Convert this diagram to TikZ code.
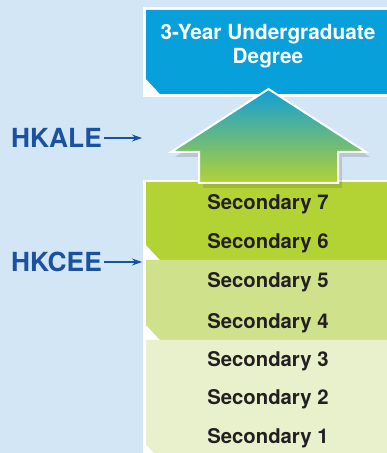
\documentclass[tikz,border=0pt]{standalone}
\usepackage{fontspec}
\setmainfont{TeX Gyre Heros}
\usetikzlibrary{shadows,arrows.meta}
\definecolor{bg}{RGB}{210,230,246}
\definecolor{topblue}{RGB}{8,160,218}
\definecolor{dkgreen}{RGB}{179,211,52}
\definecolor{mdgreen}{RGB}{207,225,138}
\definecolor{ltgreen}{RGB}{232,241,204}
\definecolor{navy}{RGB}{26,82,160}
\definecolor{txt}{RGB}{35,31,32}
\definecolor{arrtop}{RGB}{16,158,216}
\definecolor{arrbot}{RGB}{178,210,52}
\tikzset{
  seclabel/.style={font=\fontsize{20.3}{22}\selectfont\bfseries, text=txt, inner sep=0pt},
  examlabel/.style={font=\fontsize{26.3}{28}\selectfont\bfseries, text=navy, inner sep=0pt, anchor=east},
  examarrow/.style={navy, line width=1.1pt, -{Stealth[length=10pt,width=7pt]}},
  titlelabel/.style={font=\fontsize{20.8}{24}\selectfont\bfseries, text=white, align=center, inner sep=0pt}
}
\begin{document}
\begin{tikzpicture}[x=1pt,y=1pt]
\useasboundingbox (0,0) rectangle (387,453);
\fill[bg] (0,0) rectangle (387,453);
% top box
\fill[white] (143,356) rectangle (387,446);
\fill[topblue] (146,443) -- (387,443) -- (387,359) -- (160,359) -- (146,374) -- cycle;
% lower column
\fill[white] (143,0) rectangle (387,273);
\fill[dkgreen] (146,271) -- (387,271) -- (387,193) -- (160,193) -- (146,208) -- cycle;
\fill[mdgreen] (146,193) -- (387,193) -- (387,113) -- (160,113) -- (146,128) -- cycle;
\fill[ltgreen] (146,113) -- (387,113) -- (387,0) -- (154,0) -- (146,8) -- cycle;
% up arrow
\path[drop shadow={shadow xshift=4pt,shadow yshift=-5pt,opacity=0.2,fill=black!70},
  top color=arrtop, bottom color=arrbot, draw=white, line width=2pt, line join=miter]
  (268.5,364) -- (366,301) -- (338,301) -- (338,270) -- (199,270) -- (199,301) -- (171,301) -- cycle;
% title
\node[titlelabel] (deg) at (268,406.5) {3-Year Undergraduate\\Degree};
% secondary levels
\node[seclabel] (s7) at (268,248.5) {Secondary 7};
\node[seclabel] (s6) at (268,209.5) {Secondary 6};
\node[seclabel] (s5) at (268,170.5) {Secondary 5};
\node[seclabel] (s4) at (268,129.5) {Secondary 4};
\node[seclabel] (s3) at (268,91.5) {Secondary 3};
\node[seclabel] (s2) at (268,53.5) {Secondary 2};
\node[seclabel] (s1) at (268,14.5) {Secondary 1};
% exams
\node[examlabel] (hkale) at (102,315) {HKALE};
\node[examlabel] (hkcee) at (102,191) {HKCEE};
\coordinate (aleend) at (142,315);
\coordinate (ceeend) at (142,191);
\draw[examarrow] (hkale.east) ++(2,0) -- (aleend);
\draw[examarrow] (hkcee.east) ++(2,0) -- (ceeend);
\end{tikzpicture}
\end{document}
